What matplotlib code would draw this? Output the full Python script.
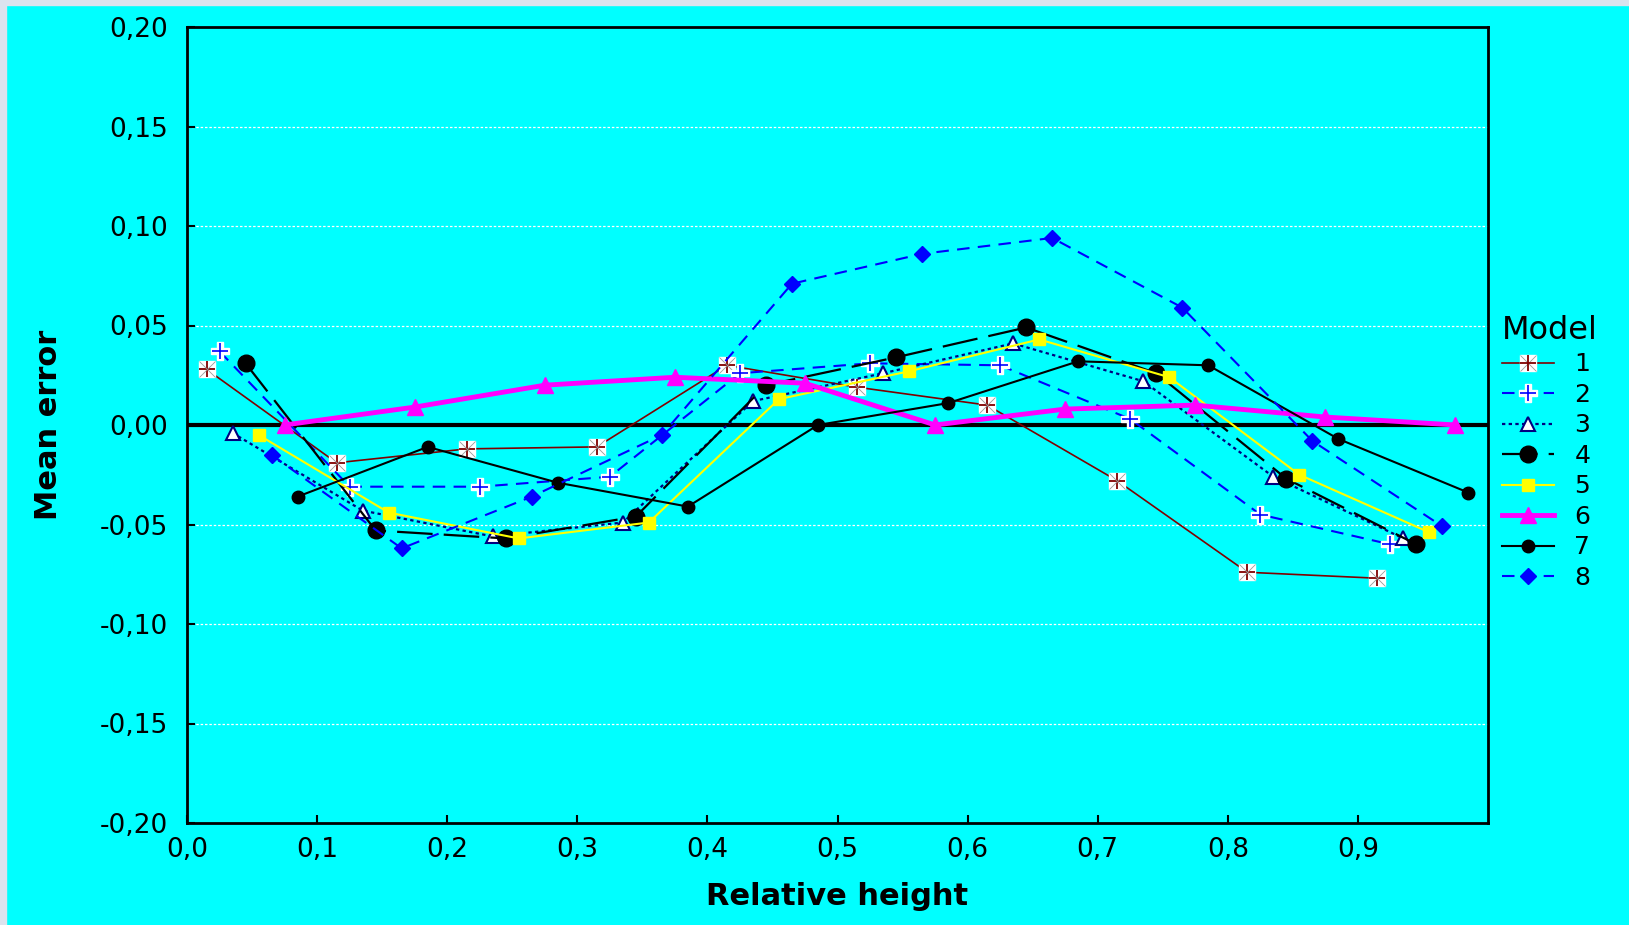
import matplotlib
matplotlib.use("Agg")
import matplotlib.pyplot as plt
from matplotlib.patches import Rectangle

# data: relative height (x) and mean error (y) per model
x1 = [0.015, 0.115, 0.215, 0.315, 0.415, 0.515, 0.615, 0.715, 0.815, 0.915]
y1 = [0.028, -0.019, -0.012, -0.011, 0.030, 0.019, 0.010, -0.028, -0.074, -0.077]
x2 = [0.025, 0.125, 0.225, 0.325, 0.425, 0.525, 0.625, 0.725, 0.825, 0.925]
y2 = [0.037, -0.031, -0.031, -0.026, 0.026, 0.031, 0.030, 0.003, -0.045, -0.060]
x3 = [0.035, 0.135, 0.235, 0.335, 0.435, 0.535, 0.635, 0.735, 0.835, 0.935]
y3 = [-0.004, -0.043, -0.056, -0.049, 0.012, 0.026, 0.041, 0.022, -0.026, -0.057]
x4 = [0.045, 0.145, 0.245, 0.345, 0.445, 0.545, 0.645, 0.745, 0.845, 0.945]
y4 = [0.031, -0.053, -0.057, -0.046, 0.020, 0.034, 0.049, 0.026, -0.027, -0.060]
x5 = [0.055, 0.155, 0.255, 0.355, 0.455, 0.555, 0.655, 0.755, 0.855, 0.955]
y5 = [-0.005, -0.044, -0.057, -0.049, 0.013, 0.027, 0.043, 0.024, -0.025, -0.054]
x6 = [0.075, 0.175, 0.275, 0.375, 0.475, 0.575, 0.675, 0.775, 0.875, 0.975]
y6 = [0.000, 0.009, 0.020, 0.024, 0.021, 0.000, 0.008, 0.010, 0.004, 0.000]
x7 = [0.085, 0.185, 0.285, 0.385, 0.485, 0.585, 0.685, 0.785, 0.885, 0.985]
y7 = [-0.036, -0.011, -0.029, -0.041, 0.000, 0.011, 0.032, 0.030, -0.007, -0.034]
x8 = [0.065, 0.165, 0.265, 0.365, 0.465, 0.565, 0.665, 0.765, 0.865, 0.965]
y8 = [-0.015, -0.062, -0.036, -0.005, 0.071, 0.086, 0.094, 0.059, -0.008, -0.051]

model_labels = ["1", "2", "3", "4", "5", "6", "7", "8"]
xticks = [0.0, 0.1, 0.2, 0.3, 0.4, 0.5, 0.6, 0.7, 0.8, 0.9]
yticks = [-0.20, -0.15, -0.10, -0.05, 0.00, 0.05, 0.10, 0.15, 0.20]

bg = "#00FFFF"
fig = plt.figure(figsize=(16.29, 9.25), dpi=100, facecolor=bg)
# pale screenshot edge on the left and top
fig.patches.append(Rectangle((0, 0), 6 / 1629, 1, transform=fig.transFigure,
                             color="#dbe3ee", zorder=0))
fig.patches.append(Rectangle((0, 1 - 5 / 925), 1, 5 / 925, transform=fig.transFigure,
                             color="#dbe3ee", zorder=0))

ax = fig.add_axes([187 / 1629, 102 / 925, 1301 / 1629, 796 / 925])
ax.set_facecolor(bg)

for v in [-0.15, -0.10, -0.05, 0.05, 0.10, 0.15]:
    ax.axhline(v, color="white", lw=0.9, ls=(0, (2, 1.5)), zorder=1)
ax.axhline(0, color="black", lw=3, zorder=1.9)

h = []
# 1
a, = ax.plot(x1, y1, color="#800000", lw=1.2, marker="s", ms=11,
             mfc="white", mec="white", zorder=3)
b, = ax.plot(x1, y1, ls="none", marker="+", ms=12, mew=1.3, color="#800000", zorder=3)
c, = ax.plot(x1, y1, ls="none", marker="x", ms=12, mew=0.6, color="#999999", zorder=3)
h.append((a, c, b))
# 2
a, = ax.plot(x2, y2, color="#0000FF", lw=1.5, ls=(0, (6, 4)), marker="P", ms=13,
             mfc="white", mec="white", zorder=3)
b, = ax.plot(x2, y2, ls="none", marker="+", ms=11, mew=1.2, color="#0000FF", zorder=3)
h.append((a, b))
# 3
a, = ax.plot(x3, y3, color="#000080", lw=1.6, ls=(0, (1.5, 1.5)), marker="^", ms=10,
             mfc="white", mec="#000080", mew=1.5, zorder=3)
h.append(a)
# 4
a, = ax.plot(x4, y4, color="black", lw=1.6, ls=(0, (16, 5)), marker="o", ms=12, zorder=3)
h.append(a)
# 5
a, = ax.plot(x5, y5, color="#FFFF00", lw=1.5, marker="s", ms=8, mec="#FFFF00", zorder=3)
h.append(a)
# 6
a, = ax.plot(x6, y6, color="#FF00FF", lw=3.5, marker="^", ms=11, zorder=3)
h.append(a)
# 7
a, = ax.plot(x7, y7, color="black", lw=1.5, marker="o", ms=9, zorder=3)
h.append(a)
# 8
a, = ax.plot(x8, y8, color="#0000FF", lw=1.5, ls=(0, (6, 4)), marker="D", ms=8, zorder=3)
h.append(a)

ax.set_xlim(0, 1.0)
ax.set_ylim(-0.20, 0.20)
ax.set_xticks(xticks)
ax.set_xticklabels([f"{t:.1f}".replace(".", ",") for t in xticks])
ax.set_yticks(yticks)
ax.set_yticklabels([f"{t:.2f}".replace(".", ",").replace("-0,00", "0,00") for t in yticks])
ax.tick_params(direction="in", length=6, width=1.5, labelsize=19, colors="black")
ax.tick_params(axis="y", pad=14)
ax.tick_params(axis="x", pad=10)
for s in ax.spines.values():
    s.set_linewidth(2)

ax.set_xlabel("Relative height", fontsize=22, fontweight="bold", labelpad=14)
ax.set_ylabel("Mean error", fontsize=22, fontweight="bold", labelpad=26)

leg = ax.legend(h, model_labels, title="Model", loc="upper left",
                bbox_to_anchor=(1.003, 0.651), frameon=False, fontsize=18,
                title_fontsize=23, handlelength=2.1, handletextpad=0.8,
                labelspacing=0.26, alignment="left", borderaxespad=0)

fig.savefig("out.png", dpi=100, facecolor=bg)
